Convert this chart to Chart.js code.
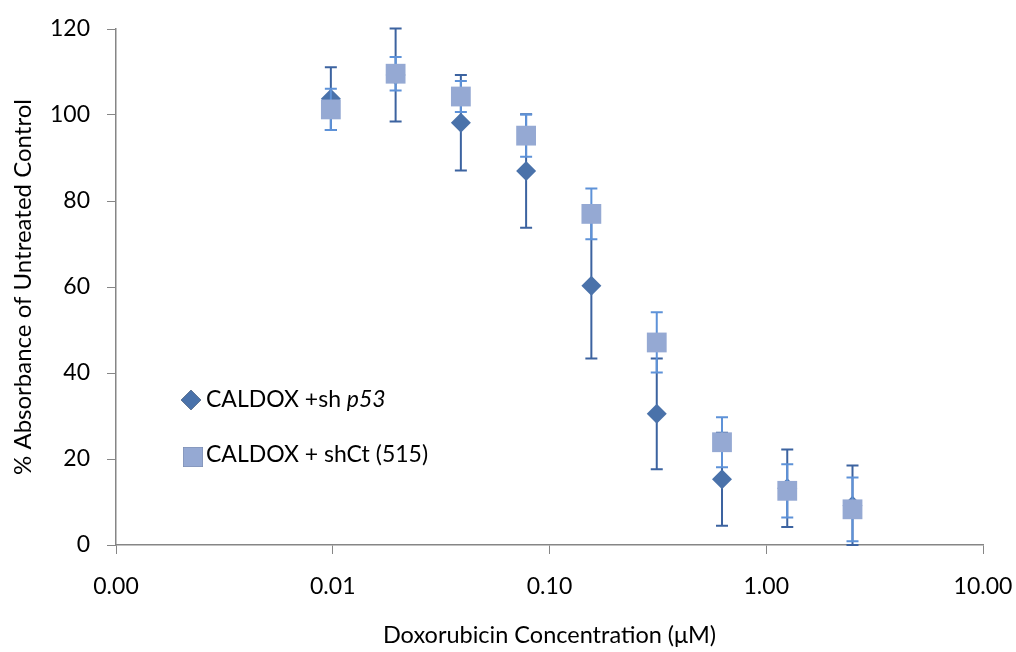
<!DOCTYPE html>
<html>
<head>
<meta charset="utf-8">
<script src="https://cdn.jsdelivr.net/npm/chart.js@4.4.0/dist/chart.umd.min.js"></script>
<style>
body { margin: 0; background: #fff; }
#wrap { width: 1016px; height: 652px; }
</style>
</head>
<body>
<div id="wrap"><canvas id="chart" width="1016" height="652"></canvas></div>
<script>
// doxorubicin doses (uM), 2-fold dilutions
const concentrations = [0.0098, 0.0195, 0.039, 0.078, 0.156, 0.3125, 0.625, 1.25, 2.5]

const p53Mean = [103.8, 109.3, 98.2, 87.0, 60.3, 30.5, 15.3, 13.2, 9.1]
const p53Err = [7.3, 10.8, 11.1, 13.2, 16.9, 12.9, 10.8, 9.0, 9.4]

const shCtMean = [101.3, 109.6, 104.3, 95.2, 77.0, 47.1, 23.9, 12.6, 8.3]
const shCtErr = [4.8, 3.9, 3.6, 4.9, 5.9, 7.0, 5.8, 6.2, 7.4]

const xTicks = [0.001, 0.01, 0.1, 1, 10]

const FONT = 'Lato, "Open Sans", sans-serif'
const axisGray = '#868686'

const errorBars = {
    id: 'errorBars',
    beforeDatasetDraw(chart, args) {
        const ds = chart.data.datasets[args.index]
        if (!ds.errors) return
        const y = chart.scales.y
        const ctx = chart.ctx
        ctx.save()
        ctx.strokeStyle = ds.errorColor
        ctx.lineWidth = 2
        args.meta.data.forEach((pt, i) => {
            const v = ds.data[i].y, e = ds.errors[i]
            const top = y.getPixelForValue(v + e)
            const bot = y.getPixelForValue(Math.max(0, v - e))
            ctx.beginPath()
            ctx.moveTo(pt.x, top); ctx.lineTo(pt.x, bot)
            ctx.moveTo(pt.x - 6, top); ctx.lineTo(pt.x + 6, top)
            ctx.moveTo(pt.x - 6, bot); ctx.lineTo(pt.x + 6, bot)
            ctx.stroke()
        })
        ctx.restore()
    }
}

// legend sits inside the plot area, like the original
const insideLegend = {
    id: 'insideLegend',
    afterDraw(chart) {
        const ctx = chart.ctx
        const x0 = chart.chartArea.left + 75
        const rows = [
            { ds: chart.data.datasets[0], y: 400, my: 400, parts: [['CALDOX +sh ', ''], ['p53', 'italic ']] },
            { ds: chart.data.datasets[1], y: 455, my: 457, parts: [['CALDOX + shCt (515)', '']] }
        ]
        ctx.save()
        rows.forEach(r => {
            Chart.helpers.drawPoint(ctx, {
                pointStyle: r.ds.pointStyle,
                radius: r.ds.pointStyle == 'rect' ? 14 : 10,
                borderWidth: 0
            }, r.ds.pointStyle == 'rect' ? x0 + 2 : x0, r.my)
            ctx.fillStyle = r.ds.backgroundColor
            ctx.fill()
            let tx = x0 + 15
            ctx.fillStyle = '#000'
            ctx.textBaseline = 'middle'
            r.parts.forEach(([t, style]) => {
                ctx.font = `${style}23px ${FONT}`
                ctx.fillText(t, tx, r.y)
                tx += ctx.measureText(t).width
            })
        })
        ctx.restore()
    }
}

new Chart(document.getElementById('chart'), {
    type: 'scatter',
    data: {
        datasets: [{
            label: 'CALDOX +sh p53',
            data: concentrations.map((c, i) => ({ x: c, y: p53Mean[i] })),
            errors: p53Err,
            errorColor: '#3c63a0',
            pointStyle: 'rectRot',
            pointRadius: 10,
            backgroundColor: '#4a72aa',
            borderWidth: 0,
            order: 2
        },
        {
            label: 'CALDOX + shCt (515)',
            data: concentrations.map((c, i) => ({ x: c, y: shCtMean[i] })),
            errors: shCtErr,
            errorColor: '#5e92d8',
            pointStyle: 'rect',
            pointRadius: 14,
            backgroundColor: '#95a9d3',
            borderWidth: 0,
            order: 1
        }]
    },
    options: {
        responsive: false,
        animation: false,
        events: [],
        layout: { autoPadding: false, padding: { top: 29, right: 33, left: 0, bottom: 0 } },
        plugins: {
            legend: { display: false },
            tooltip: { enabled: false }
        },
        scales: {
            x: {
                type: 'logarithmic',
                min: 0.001,
                max: 10,
                afterBuildTicks: s => { s.ticks = xTicks.map(v => ({ value: v })) },
                afterFit: s => {
                    s.height = 107
                    s.paddingLeft = 0
                    s.paddingRight = 0
                },
                ticks: {
                    autoSkip: false,
                    maxRotation: 0,
                    padding: 19,
                    color: '#000',
                    font: { family: FONT, size: 23 },
                    callback: v => Number(v).toFixed(2)
                },
                grid: { drawOnChartArea: false, tickLength: 9, color: axisGray },
                border: { color: axisGray, width: 1.5 },
                title: {
                    display: true,
                    text: 'Doxorubicin Concentration (μM)',
                    color: '#000',
                    font: { family: FONT, size: 23.5 },
                    padding: { bottom: 2 }
                }
            },
            y: {
                min: 0,
                max: 120,
                afterFit: s => {
                    s.width = 116
                    s.paddingTop = 0
                    s.paddingBottom = 0
                },
                ticks: {
                    stepSize: 20,
                    padding: 17,
                    color: '#000',
                    font: { family: FONT, size: 23 }
                },
                grid: { drawOnChartArea: false, tickLength: 9, color: axisGray },
                border: { color: axisGray, width: 1.5 },
                title: {
                    display: true,
                    text: '% Absorbance of Untreated Control',
                    color: '#000',
                    font: { family: FONT, size: 24 },
                    padding: { top: 9 }
                }
            }
        }
    },
    plugins: [errorBars, insideLegend]
})
</script>
</body>
</html>
